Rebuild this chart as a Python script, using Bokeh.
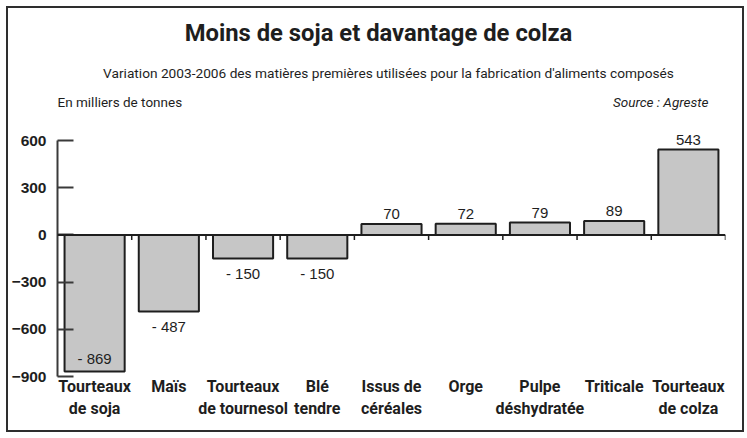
from bokeh.plotting import figure
from bokeh.models import ColumnDataSource, FactorRange, Range1d, FixedTicker, Label, Span
from bokeh.embed import file_html
from bokeh.resources import INLINE
from bokeh.core.properties import value

# ---- data ----
categories = ["Tourteaux\nde soja", "Maïs", "Tourteaux\nde tournesol", "Blé\ntendre",
              "Issus de\ncéréales", "Orge", "Pulpe\ndéshydratée", "Triticale",
              "Tourteaux\nde colza"]
variation = [-869, -487, -150, -150, 70, 72, 79, 89, 543]
y_ticks = [-900, -600, -300, 0, 300, 600]

title_text = "Moins de soja et davantage de colza"
subtitle_text = "Variation 2003-2006 des matières premières utilisées pour la fabrication d'aliments composés"
unit_text = "En milliers de tonnes"
source_text = "Source : Agreste"

# ---- style ----
NARROW = "Roboto"
SANS = "Liberation Sans"
DARK = "#1e1e1e"
AXIS = "#3a3a3a"
BAR_FILL = "#c6c6c6"

W, H = 738, 426          # incl. 2px border
CW, CH = W - 4, H - 4    # canvas
ML, MR, MB = 49, 21, 58
frame_h = CH - MB
PX_PER_UNIT = 140 / 900
Y_START = -900
Y_END = Y_START + frame_h / PX_PER_UNIT

labels = [f"- {abs(v)}" if v < 0 else str(v) for v in variation]
offsets = []
for v in variation:
    if v >= 0:
        offsets.append(-10)
    elif (v - Y_START) * PX_PER_UNIT < 24:
        offsets.append(-13)   # no room below: inside the bar
    else:
        offsets.append(15)

src = ColumnDataSource(dict(cat=categories, val=variation, lbl=labels, off=offsets))

p = figure(x_range=FactorRange(*categories, range_padding=0), y_range=Range1d(Y_START, Y_END),
           width=W, height=H, output_backend="svg", toolbar_location=None, title=None,
           min_border_left=ML, min_border_right=MR, min_border_top=0, min_border_bottom=MB)
p.styles = {"border": "2px solid #2e2e2e", "margin-left": "6px", "margin-top": "6px"}
p.outline_line_color = None
p.xgrid.visible = False
p.ygrid.visible = False

p.vbar(x="cat", top="val", width=0.81, source=src, fill_color=BAR_FILL,
       line_color=DARK, line_width=2)

p.add_layout(Span(location=0, dimension="width", line_color=DARK, line_width=2))

# small ticks at category boundaries on the zero line
bx = list(range(1, len(categories) + 1))
tick_units = 5 / PX_PER_UNIT
p.segment(x0=bx, y0=[0] * len(bx), x1=bx, y1=[-tick_units] * len(bx),
          line_color=DARK, line_width=1.5)

p.text(x="cat", y="val", text="lbl", y_offset="off", source=src,
       text_align="center", text_baseline="middle", text_font=value(SANS),
       text_font_size="15px", text_color=DARK)

# y axis
ya = p.yaxis[0]
ya.ticker = FixedTicker(ticks=y_ticks)
ya.bounds = (y_ticks[0], y_ticks[-1])
ya.major_tick_in = 16
ya.major_tick_out = 0
ya.minor_tick_line_color = None
ya.axis_line_width = 2
ya.axis_line_color = AXIS
ya.major_tick_line_width = 2
ya.major_tick_line_color = AXIS
ya.major_label_text_font = SANS
ya.major_label_text_font_style = "bold"
ya.major_label_text_font_size = "15.5px"
ya.major_label_text_color = DARK
ya.major_label_standoff = 11

# x axis
xa = p.xaxis[0]
xa.axis_line_color = None
xa.major_tick_line_color = None
xa.minor_tick_line_color = None
xa.major_label_text_font = NARROW
xa.major_label_text_font_style = "bold"
xa.major_label_text_font_size = "16px"
xa.major_label_text_color = DARK
xa.major_label_standoff = -6
xa.major_label_orientation = "horizontal"

# titles: screen units relative to the frame (frame spans to the top of the canvas)
p.add_layout(Label(x=321, y=344, x_units="screen", y_units="screen",
                   text=title_text, text_align="center", text_baseline="alphabetic",
                   text_font=NARROW, text_font_style="bold", text_font_size="23.8px",
                   text_color=DARK))
p.add_layout(Label(x=331, y=304, x_units="screen", y_units="screen",
                   text=subtitle_text, text_align="center", text_baseline="alphabetic",
                   text_font=NARROW, text_font_size="13.7px", text_color=DARK))
p.add_layout(Label(x=0, y=275, x_units="screen", y_units="screen",
                   text=unit_text, text_align="left", text_baseline="alphabetic",
                   text_font=NARROW, text_font_size="13.5px", text_color=DARK))
p.add_layout(Label(x=651, y=275, x_units="screen", y_units="screen",
                   text=source_text, text_align="right", text_baseline="alphabetic",
                   text_font=NARROW, text_font_style="italic", text_font_size="13.5px",
                   text_color=DARK))

open("out.html", "w").write(file_html(p, INLINE))
